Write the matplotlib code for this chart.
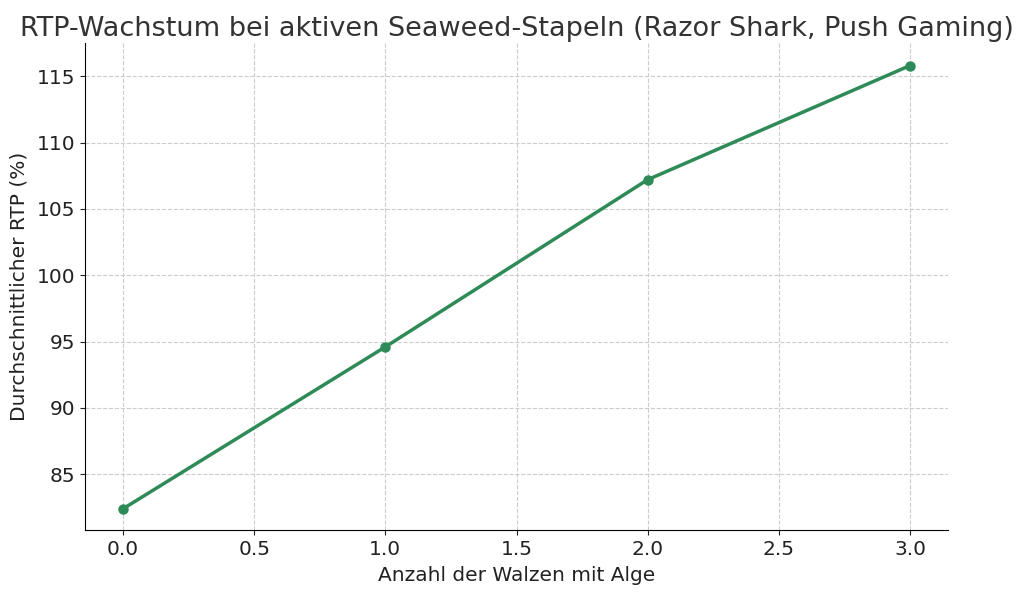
import matplotlib
matplotlib.use("Agg")
import matplotlib.pyplot as plt

reels = [0, 1, 2, 3]
rtp = [82.4, 94.6, 107.2, 115.8]

fig = plt.figure(figsize=(10.24, 5.96), dpi=100)
ax = fig.add_axes([85/1024, 1-530/596, (948-85)/1024, (530-43)/596])
ax.plot(reels, rtp, color="#2E8B57", linewidth=2.5, marker="o", markersize=6.5)
ax.set_ylim(80.8, 117.5)
ax.set_xlim(-0.145, 3.145)
ax.set_yticks([85, 90, 95, 100, 105, 110, 115])
ax.set_xticks([0, 0.5, 1, 1.5, 2, 2.5, 3])
ax.set_xticklabels(["0.0", "0.5", "1.0", "1.5", "2.0", "2.5", "3.0"])
ax.grid(True, linestyle="--", color="#cccccc", linewidth=0.8)
ax.set_axisbelow(True)
for s in ["top", "right"]:
    ax.spines[s].set_visible(False)
ax.tick_params(labelsize=14.5, colors="#222222")
ax.set_xlabel("Anzahl der Walzen mit Alge", fontsize=14.5, color="#222222", labelpad=5)
ax.set_ylabel("Durchschnittlicher RTP (%)", fontsize=14.5, color="#222222", labelpad=6)
ax.set_title("RTP-Wachstum bei aktiven Seaweed-Stapeln (Razor Shark, Push Gaming)",
             fontsize=19.5, color="#333333", pad=5)
fig.savefig("out.png", dpi=100)
